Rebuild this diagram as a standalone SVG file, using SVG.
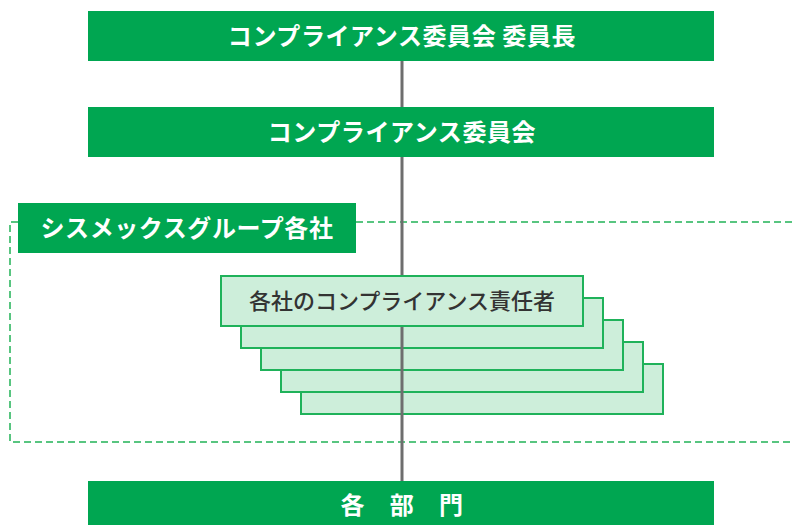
<svg xmlns="http://www.w3.org/2000/svg" width="792" height="525" viewBox="0 0 792 525">
<style>
.hdr{fill:#00A651;}
.ht{fill:#ffffff;font-family:"Noto Sans CJK JP","Noto Sans",sans-serif;font-weight:bold;font-size:24px;letter-spacing:0.6px;text-anchor:middle;}
.card{fill:#CDEEDA;stroke:#1FB25A;stroke-width:2;}
.ct{fill:#333333;font-family:"Noto Sans CJK JP","Noto Sans",sans-serif;font-weight:500;font-size:22px;text-anchor:middle;}
.dash{fill:none;stroke:#22B257;stroke-width:1.5;stroke-dasharray:7 4;}
.conn{stroke:#6E6E6E;stroke-width:3;fill:none;}
</style>
<rect width="792" height="525" fill="#ffffff"/>
<g id="group-frame">
<path class="dash" d="M18 222 H10 V442 H792"/>
<path class="dash" d="M356 222 H792"/>
</g>
<g id="cards-back">
<rect class="card" x="301" y="364" width="362" height="50"/>
<rect class="card" x="281" y="342" width="362" height="50"/>
<rect class="card" x="261" y="320" width="362" height="50"/>
<rect class="card" x="241" y="298" width="362" height="50"/>
</g>
<g id="connectors">
<line class="conn" x1="402" y1="61" x2="402" y2="481"/>
</g>
<g id="chair">
<rect class="hdr" x="88" y="11" width="626" height="50"/>
<text class="ht" x="402" y="45">コンプライアンス委員会 委員長</text>
</g>
<g id="committee">
<rect class="hdr" x="88" y="107" width="626" height="50"/>
<text class="ht" x="402" y="141">コンプライアンス委員会</text>
</g>
<g id="group-label">
<rect class="hdr" x="18" y="203" width="338" height="50"/>
<text class="ht" x="187" y="237">シスメックスグループ各社</text>
</g>
<g id="officer">
<rect class="card" x="221" y="276" width="362" height="50"/>
<text class="ct" x="402" y="309">各社のコンプライアンス責任者</text>
</g>
<g id="departments">
<rect class="hdr" x="88" y="481" width="626" height="50"/>
<text class="ht" x="402" y="514">各　部　門</text>
</g>
</svg>
